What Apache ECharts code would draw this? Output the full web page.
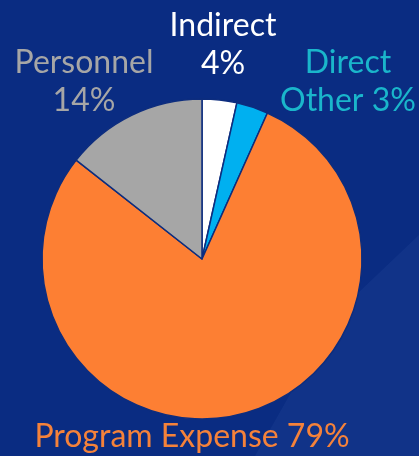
<!DOCTYPE html>
<html><head><meta charset="utf-8">
<script src="https://cdn.jsdelivr.net/npm/echarts@6/dist/echarts.min.js"></script>
<style>html,body{margin:0;padding:0;background:#0a2c82}#c{width:419px;height:456px}</style>
</head><body><div id="c"></div>
<script>
const categories = ['Indirect', 'Direct Other', 'Program Expense', 'Personnel'];
const values = [3.5, 3.2, 78.9, 14.4];
const labelTexts = ['Indirect\n4%', 'Direct\nOther 3%', 'Program Expense 79%', 'Personnel\n14%'];

const sliceColors = ['#ffffff', '#00b0f0', '#fd7f33', '#a6a6a6'];
const textColors = ['#ffffff', '#1ab6cb', '#f5823a', '#a6a6a6'];
const labelPos = [[223, 45], [348, 82], [192, 437], [84, 82]];

const chart = echarts.init(document.getElementById('c'), null, {renderer: 'canvas'});
chart.setOption({
  backgroundColor: '#0a2c82',
  animation: false,
  graphic: [{
    type: 'polygon', silent: true, z: -10,
    shape: {points: [[419, 235], [335, 315], [255, 456], [419, 456]]},
    style: {fill: 'rgba(120,160,230,0.07)'}
  }],
  series: [{
    type: 'pie',
    center: [202, 259],
    radius: 160,
    startAngle: 90,
    clockwise: true,
    data: categories.map((c, i) => ({
      name: c, value: values[i],
      itemStyle: {color: sliceColors[i]},
      label: {color: textColors[i]}
    })),
    itemStyle: {borderColor: '#0d2d7e', borderWidth: 1.5},
    label: {
      show: true,
      position: 'outside',
      overflow: 'none',
      edgeDistance: 0,
      bleedMargin: 0,
      formatter: p => labelTexts[p.dataIndex],
      fontFamily: 'Lato',
      fontSize: 32,
      lineHeight: 38,
      align: 'center',
      verticalAlign: 'middle'
    },
    labelLine: {show: false},
    labelLayout: p => ({x: labelPos[p.dataIndex][0], y: labelPos[p.dataIndex][1], align: 'center', verticalAlign: 'middle', width: 400})
  }]
});
</script></body></html>
